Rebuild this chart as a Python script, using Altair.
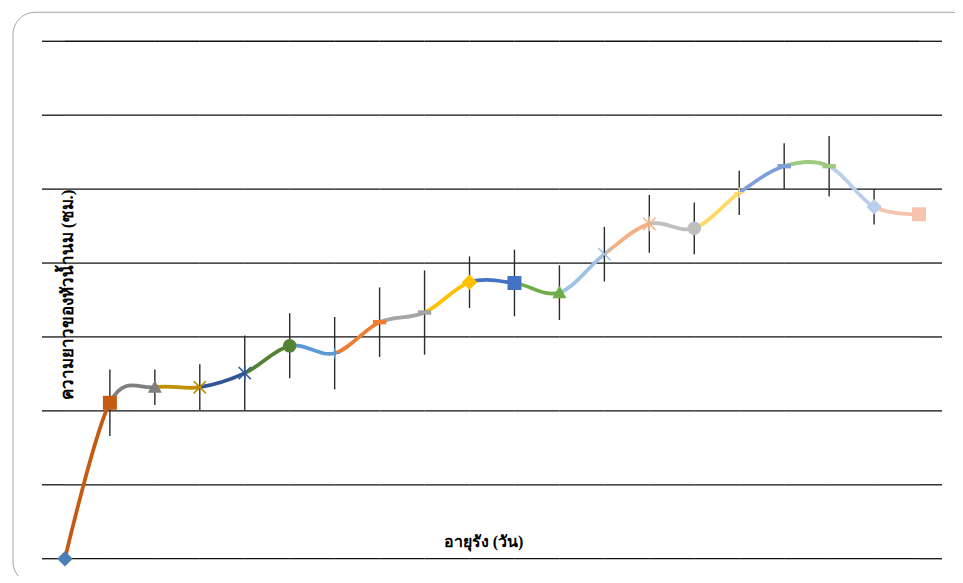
import altair as alt
import pandas as pd

# ---- data ----
age_days = list(range(20))
length_cm = [0.00, 2.11, 2.32, 2.32, 2.51, 2.88, 2.78, 3.20, 3.33, 3.74,
             3.73, 3.60, 4.12, 4.53, 4.47, 4.95, 5.31, 5.31, 4.76, 4.66]
sd_cm = [0.00, 0.45, 0.24, 0.31, 0.51, 0.44, 0.49, 0.47, 0.57, 0.35,
         0.45, 0.37, 0.37, 0.39, 0.35, 0.30, 0.31, 0.41, 0.24, 0.00]
grid_values = [0, 1, 2, 3, 4, 5, 6, 7]
x_title = ["อายุรัง (วัน)"]
y_title = ["ความยาวของหัวน้ำนม (ซม.)"]

# ---- styles ----
series_colors = ["#4A7EB5", "#C55A11", "#7F7F7F", "#BF9000", "#2F5597", "#548235",
                 "#5B9BD5", "#ED7D31", "#A5A5A5", "#FFC000", "#4472C4", "#70AD47",
                 "#9DC3E6", "#F4B183", "#BFBFBF", "#FFD966", "#809FD9", "#9DC981",
                 "#B8D0EC", "#F6C4AE"]
marker_cycle = ["diamond", "square", "triangle", "x", "star", "circle", "plus", "dash", "dash"]
SHAPES = {
    "diamond": ("M0,-1L1,0L0,1L-1,0Z", 240, True),
    "square": ("M-1,-1L1,-1L1,1L-1,1Z", 196, True),
    "triangle": ("M0,-1L1,0.8L-1,0.8Z", 196, True),
    "circle": ("circle", 185, True),
    "x": ("M-1,-1L1,1M-1,1L1,-1", 150, False),
    "star": ("M-1,-1L1,1M-1,1L1,-1M0,-1.2L0,1.2", 150, False),
    "plus": ("M-1,0L1,0M0,-1L0,1", 110, False),
    "dash": ("M-1,-0.33L1,-0.33L1,0.33L-1,0.33Z", 180, True),
}
FONT = "Liberation Serif"
PLOT_H = 518
START_W, STEP_W, END_W = 23, 45, 23

df = pd.DataFrame({"age": age_days, "length": length_cm, "sd": sd_cm})
grid_df = pd.DataFrame({"g": grid_values})
xt_df = pd.DataFrame({"t": x_title})
yt_df = pd.DataFrame({"t": y_title})

yscale = alt.Scale(domain=[0, 7], nice=False, zero=False)


def make_panel(lo, hi, width, line_idx=None, marker_idx=(), border=False,
               xtitle=False, ytitle=False):
    xs = alt.Scale(domain=[lo, hi], nice=False, zero=False)
    X = alt.X("age:Q", scale=xs, axis=None)
    layers = []
    if border:
        layers.append(
            alt.Chart(yt_df).mark_rect(
                fill="white", stroke="#A6A6A6", strokeWidth=1, cornerRadius=22
            ).encode(x=alt.value(-29), x2=alt.value(934),
                     y=alt.value(-29), y2=alt.value(543))
        )
    layers.append(
        alt.Chart(grid_df).mark_rule(color="#111111", strokeWidth=1.3).encode(
            y=alt.Y("g:Q", scale=yscale, axis=None)
        )
    )
    if line_idx is not None:
        layers.append(
            alt.Chart(df).mark_line(
                interpolate="cardinal", tension=0, clip=True,
                strokeWidth=3.75, color=series_colors[line_idx], strokeCap="butt"
            ).encode(x=X, y=alt.Y("length:Q", scale=yscale, axis=None))
        )
    for m in marker_idx:
        if sd_cm[m] > 0:
            layers.append(
                alt.Chart(df).transform_filter(alt.datum.age == age_days[m])
                .transform_calculate(lo="datum.length - datum.sd", hi="datum.length + datum.sd")
                .mark_rule(color="#2B2B2B", strokeWidth=1.4)
                .encode(x=X, y=alt.Y("lo:Q", scale=yscale, axis=None), y2="hi:Q")
            )
    for m in marker_idx:
        shape, size, filled = SHAPES[marker_cycle[m % len(marker_cycle)]]
        col = series_colors[m]
        if filled:
            mk = alt.Chart(df).mark_point(shape=shape, size=size, filled=True,
                                          fill=col, strokeWidth=0, opacity=1)
        else:
            mk = alt.Chart(df).mark_point(shape=shape, size=size, filled=False,
                                          stroke=col, strokeWidth=1.6, opacity=1)
        layers.append(
            mk.transform_filter(alt.datum.age == age_days[m]).encode(
                x=X, y=alt.Y("length:Q", scale=yscale, axis=None))
        )
    if ytitle:
        layers.append(
            alt.Chart(yt_df).mark_text(angle=270, font=FONT, fontSize=17, fontWeight="bold",
                                       align="center", baseline="middle", color="black")
            .encode(x=alt.value(3), y=alt.value(254), text="t:N")
        )
    if xtitle:
        layers.append(
            alt.Chart(xt_df).mark_text(font=FONT, fontSize=16, fontWeight="bold",
                                       align="center", baseline="alphabetic", color="black")
            .encode(x=alt.value(14), y=alt.value(506), text="t:N")
        )
    return alt.layer(*layers).properties(width=width, height=PLOT_H)


panels = [make_panel(age_days[0] - 0.5, age_days[0], START_W, border=True)]
n = len(age_days)
for k in range(1, n):
    panels.append(make_panel(age_days[k - 1], age_days[k], STEP_W, line_idx=k,
                             marker_idx=(k - 1,), ytitle=(k == 1), xtitle=(k == 10)))
panels.append(make_panel(age_days[-1], age_days[-1] + 0.5, END_W, marker_idx=(n - 1,)))

chart = alt.hconcat(*panels, spacing=0, bounds="flush",
                    padding={"left": 4, "top": 3, "right": -21, "bottom": -9}
                    ).configure_view(stroke="transparent")

chart.save("out.html", embed_options={"renderer": "svg", "actions": False})
